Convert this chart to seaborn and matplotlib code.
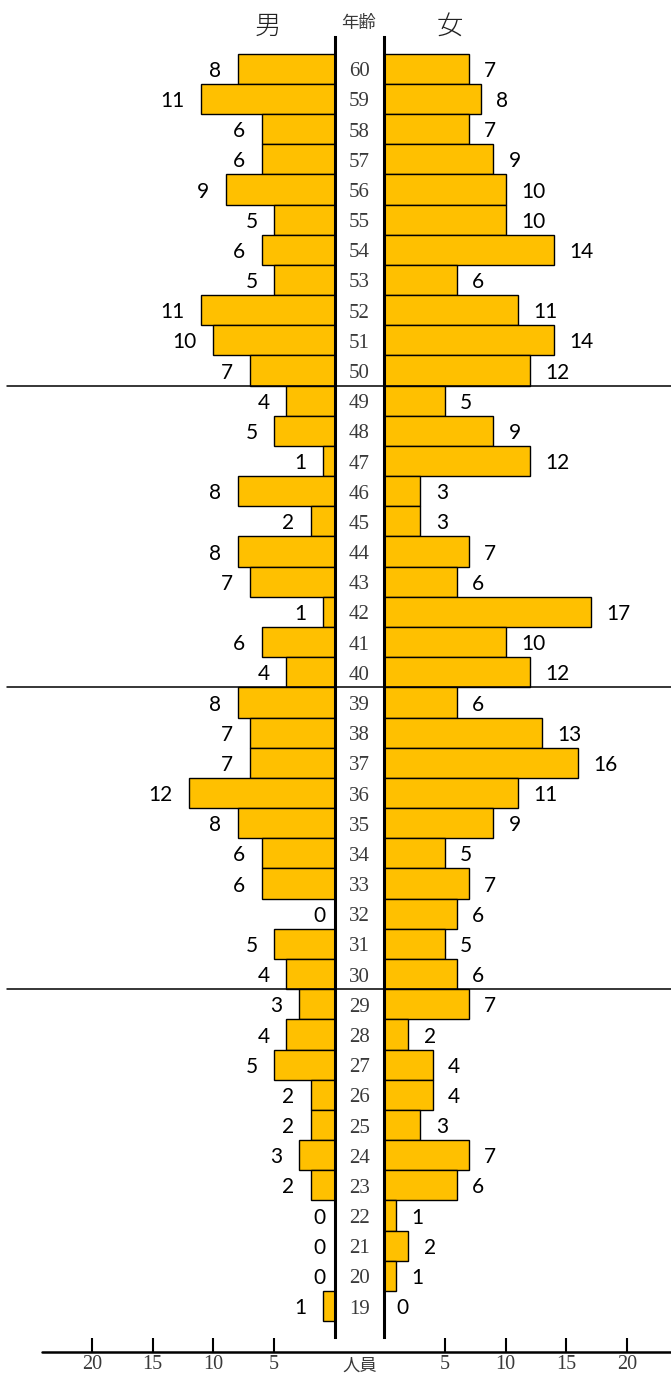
import numpy as np
import pandas as pd
import matplotlib
matplotlib.use('Agg')
import matplotlib.pyplot as plt
import matplotlib.transforms as mtransforms
from matplotlib.lines import Line2D
import seaborn as sns

# ── Data ──────────────────────────────────────────────────────
ages = [str(a) for a in range(60, 18, -1)]
male = [8, 11, 6, 6, 9, 5, 6, 5, 11, 10, 7,
        4, 5, 1, 8, 2, 8, 7, 1, 6, 4,
        8, 7, 7, 12, 8, 6, 6, 0, 5, 4,
        3, 4, 5, 2, 2, 3, 2, 0, 0, 0, 1]
female = [7, 8, 7, 9, 10, 10, 14, 6, 11, 14, 12,
          5, 9, 12, 3, 3, 7, 6, 17, 10, 12,
          6, 13, 16, 11, 9, 5, 7, 6, 5, 6,
          7, 2, 4, 4, 3, 7, 6, 1, 2, 1, 0]
ticks = [5, 10, 15, 20]
separators = ['50', '40', '30']   # line drawn under these ages

# ── Style ─────────────────────────────────────────────────────
sns.set_theme(style='white')
plt.rcParams['font.family'] = ['Lato', 'DejaVu Sans']
BAR = '#FFC000'
CJK = 'Noto Sans CJK JP'
SERIF = 'Liberation Serif'
GREY = '#3a3a3a'

W, H = 671, 1376
PX = 12.15            # pixels per person
ROW0, PITCH = 68.7, 30.18
AX_BOT = 1352

def fx(px): return px / W
def fy(py): return 1 - py / H

df = pd.DataFrame({'age': ages, 'male': male, 'female': female})

fig = plt.figure(figsize=(W / 100, H / 100), dpi=100)
ax_l = fig.add_axes([0, fy(AX_BOT), fx(335), AX_BOT / H])
ax_r = fig.add_axes([fx(384), fy(AX_BOT), fx(W - 384), AX_BOT / H])

y_lo = (AX_BOT - ROW0) / PITCH
y_hi = -ROW0 / PITCH

for ax, col in [(ax_l, 'male'), (ax_r, 'female')]:
    sns.barplot(data=df, x=col, y='age', order=ages, orient='h', color=BAR,
                saturation=1, edgecolor='black', linewidth=1.0, width=1.0, ax=ax)
    ax.set_ylim(y_lo, y_hi)
    ax.set_xlabel(''); ax.set_ylabel('')
    ax.set_yticks([])
    for s in ax.spines.values():
        s.set_visible(False)
    ax.set_facecolor('none')

ax_l.set_xlim(335 / PX, 0)
ax_r.set_xlim(0, (W - 384) / PX)

# centre vertical lines
top_row, bot_row = (37 - ROW0) / PITCH, (1337 - ROW0) / PITCH
ax_l.spines['right'].set_visible(True)
ax_l.spines['right'].set_bounds(bot_row, top_row)
ax_r.spines['left'].set_visible(True)
ax_r.spines['left'].set_bounds(bot_row, top_row)
for s in (ax_l.spines['right'], ax_r.spines['left']):
    s.set_color('black'); s.set_linewidth(2.2)

# x ticks
for ax in (ax_l, ax_r):
    ax.set_xticks(ticks, [str(t) for t in ticks])
    ax.tick_params(axis='x', direction='in', length=10, width=1.5, color='black',
                   bottom=True, labelsize=14.5, labelcolor=GREY, pad=2)
    for lab in ax.get_xticklabels():
        lab.set_fontfamily(SERIF)

# value labels
for i, v in enumerate(male):
    pad = 6.5 if v == 0 else 12
    ax_l.annotate(str(v), (v, i), xytext=(-pad, -1.5), textcoords='offset points',
                  ha='right', va='center', fontsize=15, color='black')
for i, v in enumerate(female):
    pad = 9 if v == 0 else 11
    ax_r.annotate(str(v), (v, i), xytext=(pad, -1.5), textcoords='offset points',
                  ha='left', va='center', fontsize=15, color='black')

# separators and bottom axis line
tr = mtransforms.blended_transform_factory(fig.transFigure, ax_l.transData)
for a in separators:
    yv = ages.index(a) + 0.5
    fig.add_artist(Line2D([fx(7), 1], [yv, yv], transform=tr, color='black', lw=1.1))
fig.add_artist(Line2D([fx(42), 1], [fy(AX_BOT), fy(AX_BOT)], color='black', lw=1.8))

# age labels in the gap
tr_age = mtransforms.offset_copy(tr, fig=fig, x=0, y=-3, units='dots')
for i, a in enumerate(ages):
    fig.text(fx(359.5), i, a, transform=tr_age, ha='center', va='center',
             fontsize=15, family=SERIF, color=GREY)

# headers
fig.text(fx(268), fy(26), '男', ha='center', va='center', fontsize=19, family=CJK,
         color='#222222', fontweight='light')
fig.text(fx(450), fy(26), '女', ha='center', va='center', fontsize=19, family=CJK,
         color='#222222', fontweight='light')
fig.text(fx(358), fy(23), '年齢', ha='center', va='center', fontsize=12.5, family=CJK, color=GREY)
fig.text(fx(359.5), fy(1366), '人員', ha='center', va='center', fontsize=12.5, family=CJK, color=GREY)

fig.savefig('out.png', dpi=100, facecolor='white')
